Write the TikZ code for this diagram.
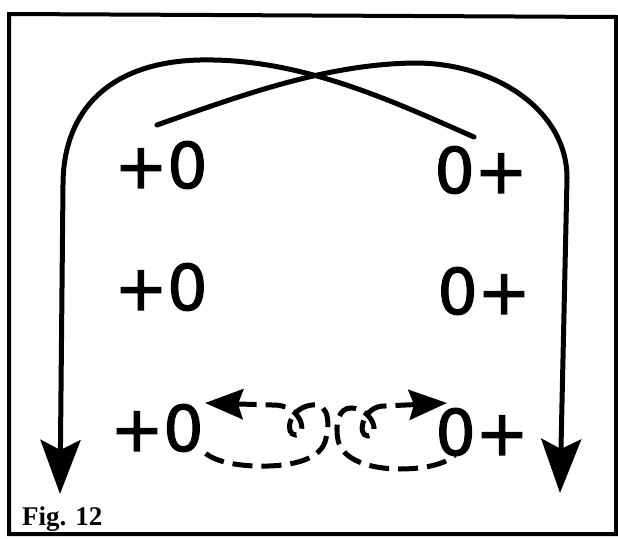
\documentclass[tikz,border=0pt]{standalone}
\usepackage{fontspec}
\setmainfont{Liberation Serif}
\newfontfamily\handfont[FakeBold=2]{DejaVu Sans}
\usetikzlibrary{arrows.meta}
\tikzset{
  frameline/.style={line width=4pt},
  bigcurve/.style={line width=5pt, line cap=round},
  bigtip/.style={-{Stealth[length=54pt,width=40pt,inset=10pt]}},
  dashloop/.style={line width=5pt, dash pattern=on 20pt off 9pt},
  looptip/.style={{Stealth[length=38pt,width=30pt,inset=5pt]}-},
  charge/.style={inner sep=0pt, font=\handfont\fontsize{63}{63}\selectfont},
  figlabel/.style={inner sep=0pt, anchor=base west, font=\bfseries\fontsize{27}{27}\selectfont}
}
\begin{document}
\begin{tikzpicture}[x=1pt,y=-1pt]
\useasboundingbox (0,0) rectangle (618,538);
% frame
\draw[frameline] (9,14) -- (616,17) -- (616,534) -- (9,534) -- cycle;

% charges
\node[charge] (l1) at (161,165) {+0};
\node[charge] (l2) at (161,287) {+0};
\node[charge] (l3) at (157,428) {+0};
\node[charge] (r1) at (481,170) {0+};
\node[charge] (r2) at (484,291) {0+};
\node[charge] (r3) at (482,432) {0+};

% end points of the crossing curves
\coordinate (sa) at (157,125);
\coordinate (sb) at (474,137);
\coordinate (ta) at (560,493);
\coordinate (tb) at (60,494);

% curve from left short end over to the right arrow
\draw[bigcurve, bigtip] (sa) .. controls (250,92) and (330,64) .. (415,63)
  .. controls (495,63) and (567,110) .. (567,178) -- (ta);
% curve from right short end over to the left arrow
\draw[bigcurve, bigtip] (sb) .. controls (390,100) and (300,58) .. (200,60)
  .. controls (110,62) and (63,110) .. (63,185) -- (tb);

% dashed loops
\coordinate (la) at (205,403);
\coordinate (le) at (201,449);
\coordinate (ra) at (447,403);
\coordinate (re) at (455,455);
\draw[dashloop, looptip] (la) -- (272,405)
  .. controls (302,404) and (308,435) .. (296,435)
  .. controls (284,435) and (288,408) .. (312,405)
  .. controls (330,403) and (330,425) .. (325,442)
  .. controls (318,462) and (285,467) .. (255,466)
  .. controls (230,465) and (210,460) .. (le);
\draw[dashloop, looptip] (ra) -- (385,406)
  .. controls (363,405) and (356,436) .. (368,436)
  .. controls (380,436) and (374,410) .. (352,408)
  .. controls (338,407) and (335,425) .. (338,440)
  .. controls (342,460) and (370,469) .. (400,469)
  .. controls (430,469) and (448,462) .. (re);

% caption
\node[figlabel] (cap) at (22,525) {Fig. 12};
\end{tikzpicture}
\end{document}
